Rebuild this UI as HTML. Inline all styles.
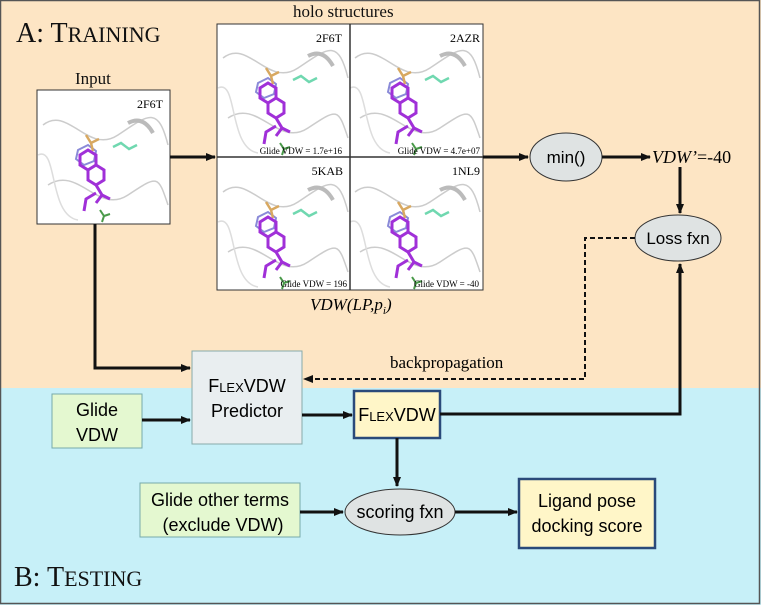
<!DOCTYPE html>
<html><head><meta charset="utf-8"><style>
html,body{margin:0;padding:0;}
body{width:761px;height:605px;overflow:hidden;background:#fff;}
svg{display:block;}
.serif{font-family:"Liberation Serif",serif;}
.sans{font-family:"Liberation Sans",sans-serif;}
</style></head><body>
<svg width="761" height="605" viewBox="0 0 761 605" xmlns="http://www.w3.org/2000/svg">
<defs>
<marker id="ah" markerWidth="10" markerHeight="10" refX="9" refY="5" orient="auto" markerUnits="userSpaceOnUse">
<path d="M0,1 L10,5 L0,9 Z" fill="#111"/></marker>
<g id="mol">
<path d="M5,30 C30,10 50,60 80,40 S120,10 130,50" fill="none" stroke="#ccc" stroke-width="1.5"/>
<path d="M10,90 C40,70 60,120 90,100 S120,80 130,110" fill="none" stroke="#ccc" stroke-width="1.5"/>
<path d="M0,60 C20,50 10,120 40,125" fill="none" stroke="#ddd" stroke-width="1.5"/>
<path d="M90,28 q15,-8 25,10" fill="none" stroke="#bbb" stroke-width="4"/>
<path d="M40,55 l10,-5 l8,6 l-2,10 l-10,4 l-8,-6 z" fill="none" stroke="#8a8ad8" stroke-width="2"/>
<path d="M48,40 l5,8 l8,-4 M53,48 l2,8" fill="none" stroke="#d8a860" stroke-width="2.5"/>
<path d="M75,52 l8,-4 l8,6 l8,-4" fill="none" stroke="#70d8b0" stroke-width="2.5"/>
<path d="M50,55 l8,5 l0,10 l-8,5 l-8,-5 l0,-10 z M58,70 l8,5 l0,10 l-8,5 l-8,-5 l0,-10 z M58,90 l6,10 l-6,8 M58,98 l-10,6 l-2,12 M64,100 l8,4" fill="none" stroke="#a030d8" stroke-width="3"/>
<path d="M62,115 l4,6 l6,-2 M66,121 l-2,6" fill="none" stroke="#4a9a4a" stroke-width="2"/>
</g>
</defs>
<rect x="0" y="0" width="761" height="388" fill="#fde5c4"/>
<rect x="0" y="388" width="761" height="217" fill="#c7f0f8"/>
<rect x="0.5" y="0.5" width="759" height="603" fill="none" stroke="#555" stroke-width="1.5"/>

<text x="16" y="42" class="serif" font-size="28" fill="#111">A: T<tspan font-size="22">RAINING</tspan></text>
<text x="14" y="586" class="serif" font-size="28" fill="#111">B: T<tspan font-size="22">ESTING</tspan></text>
<text x="75" y="84" class="serif" font-size="17" fill="#111">Input</text>
<text x="293" y="17" class="serif" font-size="17" fill="#111">holo structures</text>

<rect x="37" y="90" width="133" height="134" fill="#fff" stroke="#333" stroke-width="1"/>
<use href="#mol" transform="translate(38,95)"/>
<text x="163" y="108" class="serif" font-size="12" text-anchor="end">2F6T</text>

<rect x="217" y="24" width="266" height="266" fill="#fff" stroke="#333"/>
<use href="#mol" transform="translate(218,28)"/>
<use href="#mol" transform="translate(350,28)"/>
<use href="#mol" transform="translate(218,162)"/>
<use href="#mol" transform="translate(350,162)"/>
<line x1="350" y1="24" x2="350" y2="290" stroke="#333" stroke-width="1.5"/>
<line x1="217" y1="157" x2="483" y2="157" stroke="#333" stroke-width="1.5"/>
<text x="342" y="42" class="serif" font-size="12" text-anchor="end">2F6T</text>
<text x="480" y="42" class="serif" font-size="12" text-anchor="end">2AZR</text>
<text x="343" y="175" class="serif" font-size="12" text-anchor="end">5KAB</text>
<text x="480" y="175" class="serif" font-size="12" text-anchor="end">1NL9</text>
<text x="342" y="154" class="serif" font-size="9" text-anchor="end">Glide VDW = 1.7e+16</text>
<text x="480" y="154" class="serif" font-size="9" text-anchor="end">Glide VDW = 4.7e+07</text>
<text x="347" y="287" class="serif" font-size="9" text-anchor="end">Glide VDW = 196</text>
<text x="479" y="287" class="serif" font-size="9" text-anchor="end">Glide VDW = -40</text>
<text x="310" y="310" class="serif" font-size="17" font-style="italic">VDW(LP,p<tspan font-size="11" dy="4">i</tspan><tspan dy="-4">)</tspan></text>

<ellipse cx="566" cy="157" rx="36" ry="24" fill="#dfe3e3" stroke="#333"/>
<text x="566" y="163" class="sans" font-size="17" text-anchor="middle">min()</text>
<text x="652" y="163" class="serif" font-size="18"><tspan font-style="italic">VDW’</tspan>=-40</text>
<ellipse cx="678" cy="238" rx="43" ry="23" fill="#dfe3e3" stroke="#333"/>
<text x="678" y="244" class="sans" font-size="17" text-anchor="middle">Loss fxn</text>

<rect x="192" y="351" width="110" height="93" fill="#e9eef0" stroke="#8aa" stroke-width="1"/>
<text x="247" y="392" class="sans" font-size="18" text-anchor="middle">F<tspan font-size="13">LEX</tspan>VDW</text>
<text x="247" y="417" class="sans" font-size="18" text-anchor="middle">Predictor</text>
<rect x="52" y="394" width="90" height="54" fill="#e4f8d0" stroke="#7aa" stroke-width="1"/>
<text x="97" y="416" class="sans" font-size="18" text-anchor="middle">Glide</text>
<text x="97" y="441" class="sans" font-size="18" text-anchor="middle">VDW</text>
<rect x="354" y="391" width="86" height="47" fill="#fff6c8" stroke="#2a4a7a" stroke-width="2.5"/>
<text x="397" y="421" class="sans" font-size="18" text-anchor="middle">F<tspan font-size="13">LEX</tspan>VDW</text>
<rect x="140" y="483" width="160" height="54" fill="#e4f8d0" stroke="#7aa" stroke-width="1"/>
<text x="220" y="506" class="sans" font-size="18" text-anchor="middle">Glide other terms</text>
<text x="223" y="531" class="sans" font-size="18" text-anchor="middle">(exclude VDW)</text>
<ellipse cx="400" cy="512" rx="55" ry="23" fill="#dfe3e3" stroke="#333"/>
<text x="400" y="518" class="sans" font-size="18" text-anchor="middle">scoring fxn</text>
<rect x="519" y="479" width="136" height="69" fill="#fff6c8" stroke="#2a4a7a" stroke-width="2.5"/>
<text x="587" y="507" class="sans" font-size="18" text-anchor="middle">Ligand pose</text>
<text x="587" y="532" class="sans" font-size="18" text-anchor="middle">docking score</text>

<g stroke="#111" stroke-width="3" fill="none">
<path d="M95,224 V368 H190" marker-end="url(#ah)"/>
<path d="M170,157 H215" marker-end="url(#ah)"/>
<path d="M483,157 H528" marker-end="url(#ah)"/>
<path d="M602,157 H650" marker-end="url(#ah)"/>
<path d="M680,167 V213" marker-end="url(#ah)"/>
<path d="M440,414 H680 V264" marker-end="url(#ah)"/>
<path d="M302,415 H352" marker-end="url(#ah)"/>
<path d="M142,420 H190" marker-end="url(#ah)"/>
<path d="M397,438 V486" marker-end="url(#ah)"/>
<path d="M300,512 H343" marker-end="url(#ah)"/>
<path d="M455,512 H517" marker-end="url(#ah)"/>
</g>
<path d="M635,238 H585 V379 H304" stroke="#111" stroke-width="2" stroke-dasharray="5,3" fill="none" marker-end="url(#ah)"/>
<text x="390" y="368" class="serif" font-size="17">backpropagation</text>
</svg>
</body></html>
